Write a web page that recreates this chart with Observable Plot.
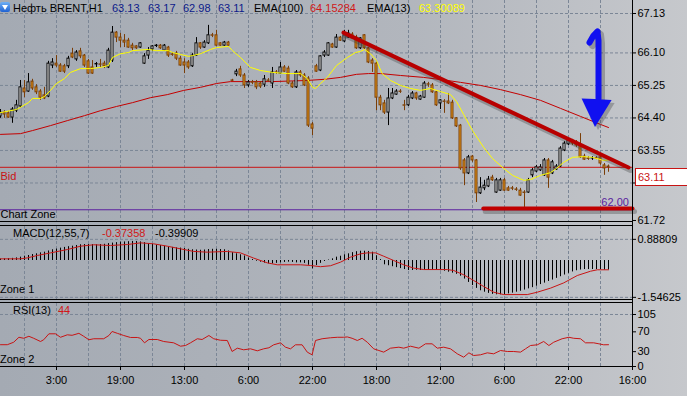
<!DOCTYPE html>
<html><head><meta charset="utf-8">
<script src="https://cdn.jsdelivr.net/npm/d3@7"></script>
<script src="https://cdn.jsdelivr.net/npm/@observablehq/plot@0.6"></script>
<style>
html,body{margin:0;padding:0}
body{width:687px;height:396px;position:relative;overflow:hidden;
 background:linear-gradient(to right,#a4aab3 0%,#b2b6bd 60%,#c6c8cc 100%);
 font-family:'Liberation Sans',Arial,sans-serif;font-size:11px;color:#000}
.pane{position:absolute;left:0}
.t{position:absolute;white-space:pre;line-height:13px}
.hl{position:absolute;left:0;width:633px;height:1px;background:#000}
.vl{position:absolute;left:632px;top:0;width:1px;height:367px;background:#000}
#icon{position:absolute;left:0;top:2px;width:10px;height:10px;border-radius:2px;background:linear-gradient(#6fb0f5,#1f62d2)}
#icon:after{content:"";position:absolute;left:2px;top:3px;border-left:3px solid transparent;border-right:3px solid transparent;border-top:5px solid #fff}
#bidbox{position:absolute;left:635px;width:60px;height:18px;line-height:16px;border:1px solid #c81414;background:#fff;color:#c81414;padding-left:2px;box-sizing:border-box}
</style></head><body>
<div id="main" class="pane" style="top:0"></div>
<div id="macd" class="pane" style="top:226px"></div>
<div id="rsi" class="pane" style="top:303px"></div>
<div class="hl" style="top:221px"></div>
<div class="hl" style="top:225px"></div>
<div class="hl" style="top:299px"></div>
<div class="hl" style="top:302px"></div>
<div class="hl" style="top:366px"></div>
<div class="vl"></div>
<div id="icon"></div>
<span class="t" style="left:13px;top:2px">Нефть BRENT,H1</span>
<span class="t" style="left:112px;top:2px;color:#0c1a8a">63.13</span>
<span class="t" style="left:148px;top:2px;color:#0c1a8a">63.17</span>
<span class="t" style="left:183px;top:2px;color:#0c1a8a">62.98</span>
<span class="t" style="left:218px;top:2px;color:#0c1a8a">63.11</span>
<span class="t" style="left:254px;top:2px">EMA(100)</span>
<span class="t" style="left:310px;top:2px;color:#d01818">64.15284</span>
<span class="t" style="left:367px;top:2px">EMA(13)</span>
<span class="t" style="left:419px;top:2px;color:#ffff00">63.30089</span>
<span class="t" style="left:13px;top:227px">MACD(12,55,7)</span>
<span class="t" style="left:102px;top:227px;color:#d01818">-0.37358</span>
<span class="t" style="left:155px;top:227px">-0.39909</span>
<span class="t" style="left:0px;top:283px">Zone 1</span>
<span class="t" style="left:13px;top:304px">RSI(13)</span>
<span class="t" style="left:58px;top:304px;color:#d01818">44</span>
<span class="t" style="left:0px;top:353px">Zone 2</span>
<div id="bidbox">63.11</div>
<script>
// ---------- DATA ----------
const open = [
64.44,64.54,64.52,64.41,64.59,64.70,65.17,65.09,65.35,65.20,
65.09,64.99,64.96,65.77,65.82,65.77,65.75,65.75,66.08,65.93,
66.14,66.03,65.88,65.72,65.80,65.80,65.82,65.72,65.90,66.63,
66.50,66.42,66.42,66.29,66.27,66.24,65.82,66.03,66.19,66.28,
66.29,66.16,66.24,66.06,66.08,65.95,65.85,65.85,65.75,66.03,
66.35,66.24,66.35,66.56,66.56,66.35,66.29,66.37,65.38,65.54,
65.67,65.51,65.25,65.33,65.33,65.30,65.27,65.38,65.30,65.59,
65.56,65.72,65.69,65.30,65.20,65.59,65.51,65.43,64.23,65.75,
65.64,66.03,66.03,66.32,66.24,66.50,66.40,66.50,66.58,66.50,
66.22,66.56,66.22,65.90,65.82,64.93,64.78,64.54,64.91,65.01,
65.09,64.73,64.73,64.91,65.04,64.88,64.93,65.28,65.25,65.07,
64.78,64.83,64.83,64.80,64.39,64.20,63.29,62.95,63.39,63.29,
62.43,62.56,62.61,62.84,62.45,62.50,62.77,62.56,62.56,62.53,
62.50,62.45,62.45,62.90,63.00,63.03,62.90,63.29,62.95,63.05,
63.13,63.55,63.71,63.81,63.76,63.68,63.39,63.34,63.34,63.35,
63.37,63.16,63.13];
const high = [
64.62,64.59,64.57,64.67,64.86,65.38,65.38,65.56,65.41,65.27,
65.14,65.20,65.88,65.95,66.03,65.82,65.80,66.01,66.22,66.16,
66.22,66.06,65.93,65.90,65.85,65.93,65.88,66.22,66.79,66.66,
66.61,66.58,66.48,66.35,66.29,66.37,66.08,66.24,66.29,66.32,
66.32,66.32,66.27,66.11,66.14,66.01,65.95,65.90,66.08,66.50,
66.37,66.42,66.82,66.61,66.69,66.37,66.40,66.40,65.41,65.67,
65.75,65.56,65.38,65.38,65.38,65.35,65.51,65.43,65.72,65.64,
65.85,65.77,65.75,65.35,65.64,65.64,65.56,65.48,64.28,65.80,
66.03,66.16,66.37,66.35,66.58,66.53,66.69,66.69,66.63,66.56,
66.50,66.58,66.24,65.95,65.85,64.99,64.86,65.17,65.17,65.14,
65.14,64.86,64.99,65.09,65.07,64.99,65.35,65.33,65.30,65.09,
64.88,64.88,65.04,64.86,64.41,64.23,63.34,63.42,63.42,63.31,
62.84,62.77,62.87,62.90,62.82,62.82,62.82,62.61,62.61,62.58,
62.56,62.50,62.82,63.08,63.16,63.18,63.34,63.34,63.29,63.18,
63.65,63.78,63.86,63.84,63.81,63.99,63.45,63.39,63.39,63.39,
63.42,63.21,63.17];
const low = [
64.39,64.39,64.39,64.26,64.54,64.67,64.93,65.07,65.12,65.01,
64.86,64.88,64.93,65.69,65.72,65.59,65.56,65.69,65.95,65.88,
65.95,65.72,65.54,65.54,65.72,65.72,65.69,65.69,65.85,66.37,
66.24,66.24,66.22,66.16,66.19,66.22,65.80,65.93,66.14,66.24,
66.19,66.14,65.98,66.01,65.90,65.75,65.56,65.67,65.72,66.01,
66.19,66.22,66.32,66.50,66.27,66.27,66.27,66.27,65.35,65.48,
65.46,65.17,65.20,65.27,65.14,65.17,65.20,65.33,65.17,65.54,
65.54,65.59,65.27,65.17,65.17,65.46,65.22,64.15,63.94,65.59,
65.61,65.98,66.01,66.22,66.22,66.40,66.37,66.48,66.45,66.19,
66.19,66.19,65.82,65.59,64.59,64.59,64.49,64.20,64.88,64.99,
65.04,64.59,64.70,64.88,64.86,64.86,64.91,65.20,65.04,64.70,
64.62,64.52,64.75,64.36,64.15,63.03,62.63,62.92,63.24,62.19,
62.40,62.50,62.58,62.74,62.43,62.48,62.48,62.48,62.50,62.48,
62.35,62.06,62.43,62.84,62.97,63.00,62.87,62.56,62.92,63.03,
63.11,63.52,63.68,63.68,63.63,63.34,63.29,63.29,63.29,63.31,
63.16,62.90,62.98];
const close = [
64.54,64.49,64.41,64.62,64.73,65.20,65.07,65.33,65.17,65.07,
64.93,64.91,65.82,65.85,65.77,65.61,65.61,65.95,65.98,66.11,
66.01,65.77,65.56,65.56,65.81,65.79,65.75,66.16,66.63,66.50,
66.42,66.37,66.24,66.22,66.22,66.35,66.01,66.16,66.27,66.29,
66.22,66.29,66.03,66.05,65.95,65.77,65.77,65.72,66.03,66.35,
66.24,66.37,66.56,66.55,66.29,66.29,66.37,66.29,65.37,65.61,
65.51,65.25,65.33,65.32,65.20,65.22,65.41,65.37,65.59,65.58,
65.72,65.61,65.30,65.20,65.59,65.51,65.25,64.20,64.12,65.61,
66.01,66.11,66.35,66.24,66.50,66.42,66.56,66.61,66.48,66.22,
66.48,66.22,65.85,65.82,64.93,64.73,64.54,64.91,65.04,65.09,
65.08,64.72,64.93,65.04,64.91,64.96,65.30,65.27,65.07,64.73,
64.86,64.82,64.78,64.39,64.18,63.08,62.95,63.37,63.29,62.43,
62.58,62.63,62.79,62.77,62.77,62.77,62.50,62.50,62.55,62.52,
62.37,62.44,62.77,63.03,63.11,63.11,63.29,62.84,63.24,63.13,
63.60,63.73,63.81,63.73,63.68,63.37,63.31,63.33,63.35,63.34,
63.21,63.08,63.11];

// EMA(13): [bar, price]
const ema13 = [[0,64.54],[4,64.62],[7,64.80],[8,64.91],[10,64.91],[11,64.96],[12.5,65.12],[14,65.30],[16,65.43],[17.5,65.59],[20,65.69],[22.5,65.69],[25,65.72],[27,65.77],[28,65.98],[30,66.08],[32,66.11],[33,66.16],[37,66.19],[39,66.16],[42,66.16],[43,66.11],[45,66.06],[47,66.01],[48,66.03],[50,66.08],[52.5,66.19],[54,66.24],[57,66.27],[58,66.16],[60,65.98],[62.5,65.72],[65,65.64],[68,65.59],[71.7,65.56],[75,65.56],[76.7,65.43],[78,65.20],[78.75,65.17],[80,65.30],[81.7,65.46],[84,65.77],[86.7,65.98],[88.75,66.11],[90,66.14],[91,66.19],[92.5,66.08],[94,65.90],[95.4,65.56],[97.5,65.38],[100,65.25],[102.5,65.17],[105,65.12],[107.5,65.17],[110,65.09],[112.5,65.01],[114,64.83],[115.8,64.49],[118,64.07],[120.8,63.63],[123,63.34],[125.8,63.08],[128,62.90],[130.8,62.77],[132.5,62.79],[135,62.90],[137.5,62.97],[139,63.08],[140.8,63.24],[143,63.37],[145.8,63.39],[148,63.37],[150.8,63.29],[152,63.30]];
// EMA(100)
const ema100 = [[0,63.97],[5,63.99],[8,64.07],[12.5,64.20],[16.7,64.33],[21,64.46],[25,64.59],[29,64.70],[33,64.80],[37.5,64.93],[41.7,65.01],[45.8,65.12],[50,65.20],[54,65.30],[57.5,65.35],[62.5,65.35],[68,65.35],[76.7,65.38],[81,65.41],[85,65.46],[89,65.54],[92,65.56],[95,65.56],[100,65.51],[105.8,65.46],[111.7,65.38],[115,65.33],[120,65.25],[125,65.14],[130,65.01],[135,64.86],[140,64.65],[145,64.44],[150,64.23],[152,64.15]];

// MACD histogram, one value per bar
const macdHist = [
0.06,0.07,0.08,0.09,0.11,0.14,0.18,0.21,0.25,0.28,
0.32,0.35,0.40,0.45,0.48,0.52,0.55,0.58,0.60,0.63,
0.66,0.67,0.67,0.67,0.66,0.67,0.68,0.71,0.73,0.75,
0.77,0.78,0.79,0.80,0.80,0.78,0.75,0.71,0.68,0.65,
0.63,0.60,0.57,0.55,0.53,0.52,0.50,0.47,0.45,0.44,
0.43,0.44,0.46,0.47,0.47,0.46,0.45,0.40,0.33,0.28,
0.24,0.19,0.10,0.04,-0.03,-0.07,-0.11,-0.14,-0.14,-0.12,
-0.10,-0.08,-0.07,-0.08,-0.10,-0.10,-0.12,-0.20,-0.35,-0.21,
-0.12,-0.04,0.02,0.07,0.14,0.18,0.24,0.28,0.33,0.37,
0.39,0.39,0.38,0.35,0.20,0.04,-0.18,-0.22,-0.26,-0.30,
-0.34,-0.38,-0.42,-0.42,-0.41,-0.42,-0.42,-0.42,-0.42,-0.42,
-0.43,-0.45,-0.49,-0.53,-0.58,-0.66,-0.78,-0.92,-1.05,-1.17,
-1.27,-1.33,-1.38,-1.42,-1.44,-1.44,-1.43,-1.40,-1.37,-1.33,
-1.29,-1.24,-1.19,-1.14,-1.08,-1.01,-0.95,-0.88,-0.82,-0.75,
-0.68,-0.61,-0.54,-0.48,-0.43,-0.40,-0.38,-0.38,-0.38,-0.38,
-0.39,-0.40,-0.40];
// MACD signal line: [bar, value]
const macdSignal = [[0,0.07],[5,0.07],[6.7,0.11],[9.2,0.21],[12.5,0.32],[16.7,0.46],[20,0.60],[23.3,0.66],[27.5,0.63],[31.7,0.67],[35,0.74],[38.3,0.70],[41.7,0.60],[45,0.49],[48.3,0.38],[51.7,0.35],[56.7,0.38],[60,0.32],[63.3,0.10],[66.7,-0.10],[69.2,-0.18],[75,-0.18],[77.5,-0.21],[80,-0.26],[82.5,-0.22],[85,-0.07],[87.5,0.14],[90,0.28],[91.7,0.32],[93.8,0.32],[95.8,0.18],[98.3,0.0],[100.8,-0.18],[103.3,-0.32],[105.8,-0.38],[111.7,-0.38],[113.3,-0.42],[115.8,-0.60],[118.3,-0.84],[120.8,-1.09],[123.3,-1.33],[125.8,-1.43],[131.7,-1.43],[134.2,-1.33],[137.5,-1.16],[140.8,-0.94],[144.2,-0.63],[147.5,-0.45],[149.2,-0.39],[152,-0.39]];
// RSI(13): [bar, value]
const rsi = [[0,44],[1.7,44],[3.3,49],[4.6,59],[5.8,57],[7.1,61],[8.3,57],[10,50.5],[10.8,54],[12.1,66],[13.75,66],[15,59],[16.7,64],[17.9,63],[19.6,67],[20.8,61],[22.1,54],[23.3,56],[25.8,56],[27.1,62.6],[27.9,70.7],[29.2,67],[30.8,62.6],[32.5,58.6],[34.2,58.6],[35,57],[36,47.8],[37.1,54.5],[39.2,54.5],[40.8,50.5],[43.3,47.8],[45,41],[46.25,42.4],[47.5,47.8],[49.2,56],[50.4,54.5],[52.1,62.6],[53.3,56],[55,53],[56.7,52.5],[57.9,30.3],[59.2,37],[60.8,33.7],[62.5,35.7],[64.2,31.7],[65.8,35.7],[67.1,37.8],[68.3,43.8],[70,47.8],[71.25,39],[72.5,35.7],[73.75,43.8],[75.4,43.8],[76.7,28.9],[77.9,23.6],[78.75,52.5],[80.4,56],[82.5,58],[84.2,59],[85.8,59],[86.7,59.7],[87.9,57],[89.2,52.5],[90.4,57],[91.7,49],[93.3,35.7],[94.6,32.3],[95.8,29],[97.5,37],[99.6,39],[100.8,37],[102.5,41],[104.6,37],[106.25,45.8],[107.9,45.8],[109.2,37],[110.8,39],[112.5,35.7],[114.2,25.6],[115.8,18.8],[117.1,27.6],[118.3,22.2],[120,23.6],[121.7,27.6],[123.3,25.6],[125,32.3],[126.7,30.3],[128.3,30.3],[130,29],[131.25,35.7],[132.5,42.4],[134.2,43.8],[135.8,50.5],[137.1,42.4],[138.3,49],[140.4,56],[142.1,59],[143.3,57],[145,56],[146.25,47.8],[148.3,47.8],[149.6,45.8],[150.8,43.8],[152,44]];

// axis ticks / labels (62.70 sits under the Bid price box, so its text is hidden)
const priceTicks = [67.13, 66.10, 65.25, 64.40, 63.55, 62.70, 61.72];
const hiddenPriceLabels = [62.70];
const priceGrid = [67.13, 66.10, 65.25, 64.40, 63.55, 62.70];
const macdTicks = [0.88809, -1.54625];
const rsiTicks = [105, 70, 30, 0];
const rsiGrid = [105];
const gridX = [6,14,22,30,38,46,54,62,70,78,86,94,102,110,118,126,134,142,150];
const xTickPos = [14,30,46,62,78,94,110,126,142,158];
const xTickLabels = ["3:00","19:00","13:00","6:00","22:00","18:00","12:00","6:00","22:00","16:00"];

// drawn objects (bar, price)
const bidPrice = 63.11;
const zonePrice = 62.00;
const trendLine = [[85.75, 66.63], [157, 63.105]];
const supportLine = [[120.7, 62.03], [158, 62.03]];
const arrowShaft = [[147.25, 66.37], [148.25, 66.555], [149.25, 66.66], [149.5, 66.42], [149.5, 64.91]];
const arrowHead = [{x: 145.4, t: 64.895, b: 64.895}, {x: 148.75, t: 64.88, b: 64.15}, {x: 152.9, t: 64.856, b: 64.856}];

// ---------- DRAW ----------
const W = 687, MR = 55;
const xDomain = [0, 158];
const gridColor = "#7b8696", dash = "3,2";
const red = "#c81414";
const style = {fontFamily: "'Liberation Sans', Arial, sans-serif", fontSize: "11px", background: "transparent", overflow: "visible", color: "#000"};
const px = d => d[0], py = d => d[1];

const bars = open.map((o, i) => ({i, o, h: high[i], l: low[i], c: close[i]}));
const bull = bars.filter(d => d.c >= d.o);
const bear = bars.filter(d => d.c < d.o);

const mainChart = Plot.plot({
  width: W, height: 221, marginTop: 0, marginBottom: 0, marginLeft: 0, marginRight: MR,
  style,
  x: {domain: xDomain, axis: null},
  y: {domain: [61.6934, 67.4698], axis: "right", ticks: priceTicks, tickSize: 3, tickPadding: 2,
      tickFormat: d => hiddenPriceLabels.includes(d) ? "" : d.toFixed(2), label: null},
  marks: [
    Plot.ruleY(priceGrid, {stroke: gridColor, strokeDasharray: dash}),
    Plot.ruleX(gridX, {stroke: gridColor, strokeDasharray: dash}),
    Plot.ruleY([bidPrice], {stroke: red}),
    Plot.ruleY([zonePrice], {stroke: "#5a1e9e"}),
    Plot.line(ema100, {x: px, y: py, stroke: "#c40000", strokeWidth: 1}),
    Plot.ruleX(bull, {x: "i", y1: "l", y2: "h", stroke: "#000"}),
    Plot.ruleX(bear, {x: "i", y1: "l", y2: "h", stroke: "#7a3e08"}),
    Plot.rect(bull, {x1: d => d.i - 0.25, x2: d => d.i + 0.25, y1: "o", y2: "c", fill: "#fff", stroke: "#000"}),
    Plot.rect(bear, {x1: d => d.i - 0.25, x2: d => d.i + 0.25, y1: "o", y2: "c", fill: "#e89a1a", stroke: "#7a3e08"}),
    Plot.line(ema13, {x: px, y: py, stroke: "#ffff00", strokeWidth: 1}),
    Plot.line(trendLine, {x: px, y: py, stroke: "#333", strokeOpacity: 0.3, strokeWidth: 5, dx: 2, dy: 3}),
    Plot.line(trendLine, {x: px, y: py, stroke: "#b80000", strokeWidth: 4}),
    Plot.line(supportLine, {x: px, y: py, stroke: "#333", strokeOpacity: 0.3, strokeWidth: 5, dx: 2, dy: 3}),
    Plot.line(supportLine, {x: px, y: py, stroke: "#c00000", strokeWidth: 4}),
    Plot.line(arrowShaft, {x: px, y: py, stroke: "#333", strokeOpacity: 0.3, strokeWidth: 7, dx: 3, dy: 3, strokeLinejoin: "round", strokeLinecap: "round"}),
    Plot.areaY(arrowHead, {x: "x", y1: "t", y2: "b", fill: "#333", fillOpacity: 0.3, dx: 3, dy: 3}),
    Plot.line(arrowShaft, {x: px, y: py, stroke: "#1010f0", strokeWidth: 6, strokeLinejoin: "round", strokeLinecap: "round"}),
    Plot.areaY(arrowHead, {x: "x", y1: "t", y2: "b", fill: "#1010f0"}),
    Plot.text([{x: 0, y: bidPrice, s: "Bid"}], {x: "x", y: "y", text: "s", textAnchor: "start", dy: 9.5, fill: red}),
    Plot.text([{x: 0, y: zonePrice, s: "Chart Zone"}], {x: "x", y: "y", text: "s", textAnchor: "start", dy: 4.3, fill: "#000"}),
    Plot.text([{x: 157.1, y: zonePrice, s: zonePrice.toFixed(2)}], {x: "x", y: "y", text: "s", textAnchor: "end", dy: -7.3, fill: "#5a1e9e"})
  ]
});
document.getElementById("main").append(mainChart);
const bidY = mainChart.scale("y").apply(bidPrice);
document.getElementById("bidbox").style.top = (Math.round(bidY) + 1) + "px";

const macdData = macdHist.map((v, i) => ({i, v}));
const macdChart = Plot.plot({
  width: W, height: 73, marginTop: 0, marginBottom: 0, marginLeft: 0, marginRight: MR,
  style,
  x: {domain: xDomain, axis: null},
  y: {domain: [-1.6366, 1.4268], axis: "right", ticks: macdTicks, tickSize: 3, tickPadding: 2, tickFormat: d => d.toFixed(5), label: null},
  marks: [
    Plot.ruleY(macdTicks, {stroke: gridColor, strokeDasharray: dash}),
    Plot.ruleX(gridX, {stroke: gridColor, strokeDasharray: dash}),
    Plot.ruleX(macdData, {x: "i", y1: 0, y2: "v", stroke: "#000"}),
    Plot.line(macdSignal, {x: px, y: py, stroke: red, strokeWidth: 1})
  ]
});
document.getElementById("macd").append(macdChart);

const labelMap = new Map(xTickPos.map((p, k) => [p, xTickLabels[k]]));
const rsiChart = Plot.plot({
  width: W, height: 93, marginTop: 0, marginBottom: 30, marginLeft: 0, marginRight: MR,
  style,
  x: {domain: xDomain, ticks: xTickPos, tickFormat: d => labelMap.get(d), tickSize: 4, tickPadding: 6, label: null},
  y: {domain: [0, 127.2], axis: "right", ticks: rsiTicks, tickSize: 3, tickPadding: 2, tickFormat: d => String(d), label: null},
  marks: [
    Plot.ruleY(rsiGrid, {stroke: gridColor, strokeDasharray: dash}),
    Plot.ruleX(gridX, {stroke: gridColor, strokeDasharray: dash}),
    Plot.line(rsi, {x: px, y: py, stroke: red, strokeWidth: 1})
  ]
});
document.getElementById("rsi").append(rsiChart);
</script>
</body></html>
